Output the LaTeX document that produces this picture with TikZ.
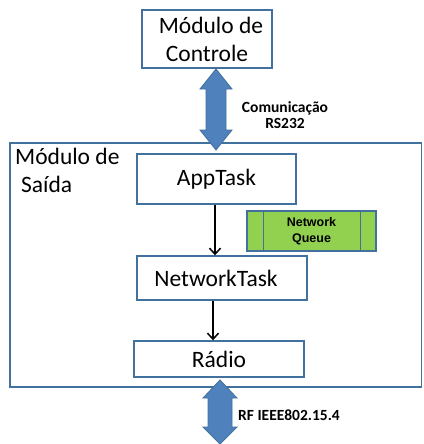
\documentclass[tikz,border=0pt]{standalone}
\usepackage{fontspec}
\setmainfont{Carlito}
\newfontfamily\arialfont{Liberation Sans}
\usetikzlibrary{arrows.meta}
\definecolor{boxline}{HTML}{41719C}
\definecolor{arrowfill}{HTML}{4F81BD}
\definecolor{arrowline}{HTML}{41719C}
\definecolor{queuefill}{HTML}{92D050}
\begin{document}
\begin{tikzpicture}[x=1pt,y=-1pt,
  modbox/.style={draw=boxline, line width=1.4pt, fill=white, inner sep=0pt,
    font=\fontsize{23.5}{28}\selectfont, align=center},
  biglabel/.style={inner sep=0pt, font=\fontsize{23.5}{28}\selectfont},
  smalllabel/.style={inner sep=0pt, font=\fontsize{15.5}{16}\selectfont\bfseries, align=center},
  flowarrow/.style={draw=black, line width=1.5pt, -{Straight Barb[length=6pt,width=11pt]}},
  dblarrow/.style={draw=arrowline, line width=0.8pt, fill=arrowfill}]
\useasboundingbox (0,0) rectangle (423,444);
\fill[white] (0,0) rectangle (423,444);

% outer module
\node[modbox, minimum width=411.5pt, minimum height=244pt] (saida) at (215.75,265) {};
\node[biglabel, anchor=north west, align=left] (saidalbl) at (15,148) {Módulo de\\\hspace*{6pt}Saída};

% top module
\node[modbox, minimum width=130pt, minimum height=58pt] (ctrl) at (207,39)
  {\hspace*{8pt}Módulo de\\Controle};

% inner tasks
\node[modbox, minimum width=159pt, minimum height=50pt] (app) at (216.5,179) {AppTask};
\node[modbox, minimum width=170pt, minimum height=44pt] (nt) at (222,278)
  {\hspace*{-12pt}NetworkTask};
\node[modbox, minimum width=170pt, minimum height=36pt] (radio) at (219,359) {Rádio};

% network queue
\node[draw=boxline, line width=1.2pt, fill=queuefill, minimum width=129pt, minimum height=40pt,
  inner sep=0pt, align=center, font=\arialfont\fontsize{12.5}{16}\selectfont\bfseries]
  (queue) at (311.5,231) {Network\\Queue};
\draw[boxline, line width=1.2pt] ([xshift=17pt]queue.north west) -- ([xshift=17pt]queue.south west);
\draw[boxline, line width=1.2pt] ([xshift=-16pt]queue.north east) -- ([xshift=-16pt]queue.south east);

% flow arrows
\draw[flowarrow] ([xshift=-1.5pt]app.south) -- ([xshift=-7pt]nt.north);
\draw[flowarrow] ([xshift=-9pt]nt.south) -- ([xshift=-6pt]radio.north);

% double arrows
\coordinate (ta) at (216,69);
\coordinate (tb) at (216,150);
\path[dblarrow] (ta) -- ++(16,20) -- ++(-6,0) -- ++(0,41) -- ++(6,0) -- (tb)
  -- ++(-16,-20) -- ++(6,0) -- ++(0,-41) -- ++(-6,0) -- cycle;
\node[smalllabel] (rs) at (285,115) {Comunicação\\RS232};

\coordinate (ba) at (220,380);
\coordinate (bb) at (220,444);
\path[dblarrow] (ba) -- ++(17,18) -- ++(-5,0) -- ++(0,29) -- ++(5,0) -- (bb)
  -- ++(-17,-17) -- ++(5,0) -- ++(0,-29) -- ++(-5,0) -- cycle;
\node[smalllabel, anchor=west] (rf) at (238,415) {RF IEEE802.15.4};
\end{tikzpicture}
\end{document}
